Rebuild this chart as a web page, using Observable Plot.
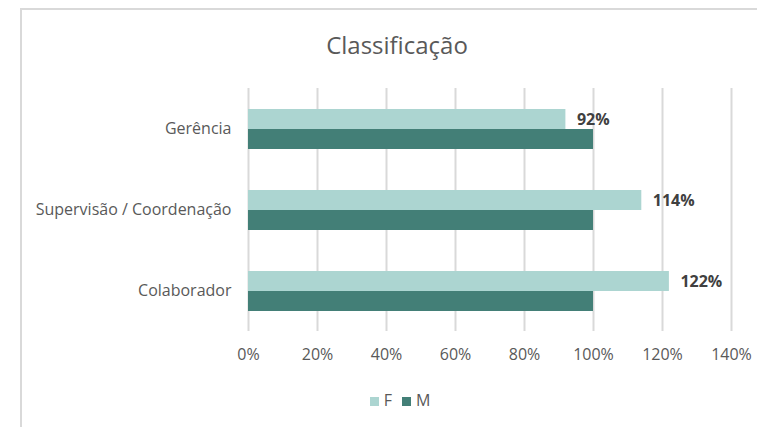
<!DOCTYPE html>
<html>
<head>
<meta charset="utf-8">
<script src="https://cdn.jsdelivr.net/npm/d3@7"></script>
<script src="https://cdn.jsdelivr.net/npm/@observablehq/plot@0.6"></script>
<style>
  html, body { margin: 0; padding: 0; background: #fff; }
  #wrap { position: relative; width: 757px; height: 427px; overflow: hidden; background: #fff; font-family: "Open Sans", sans-serif; }
  #frame { position: absolute; left: 20px; top: 8px; width: 800px; height: 500px; border-left: 2px solid #d9d9d9; border-top: 2px solid #d9d9d9; }
  #title { position: absolute; left: 0; top: 30px; width: 794px; text-align: center; font-size: 24px; color: #595959; line-height: 30px; }
  #chart { position: absolute; left: 0; top: 80px; }
  #legend { position: absolute; left: 0; top: 390px; width: 800px; text-align: center; font-size: 16px; color: #595959; line-height: 20px; }
  .sw { display: inline-block; width: 9px; height: 9px; margin-right: 5px; vertical-align: 0px; }
  .item { display: inline-block; margin: 0 5px; }
</style>
</head>
<body>
<div id="wrap">
  <div id="frame"></div>
  <div id="title">Classificação</div>
  <div id="chart"></div>
  <div id="legend"></div>
</div>
<script>
const categories = ["Gerência", "Supervisão / Coordenação", "Colaborador"];
const series = ["F", "M"];
const valuesF = [0.92, 1.14, 1.22];
const valuesM = [1.00, 1.00, 1.00];
const colors = ["#acd5d1", "#437f77"];
const xTicks = [0, 0.2, 0.4, 0.6, 0.8, 1.0, 1.2, 1.4];

const data = categories.flatMap((c, i) => [
  {cat: c, s: "F", v: valuesF[i]},
  {cat: c, s: "M", v: valuesM[i]}
]);
const pct = d3.format(".0%");

const chart = Plot.plot({
  width: 757,
  height: 288,
  marginLeft: 248,
  marginRight: 26,
  marginTop: 7,
  marginBottom: 36,
  style: {fontFamily: "'Open Sans', sans-serif", fontSize: "16px", color: "#595959", background: "transparent"},
  x: {domain: [0, 1.4], ticks: xTicks, tickFormat: pct, tickSize: 0, tickPadding: 17, label: null},
  fy: {domain: categories, padding: 0, label: null, axis: "left", tickSize: 0, tickPadding: 17},
  y: {domain: series, axis: null, paddingInner: 0, paddingOuter: 0.93},
  color: {domain: series, range: colors},
  marks: [
    Plot.ruleX(xTicks, {stroke: "#d9d9d9", strokeWidth: 2}),
    Plot.barX(data, {x: "v", y: "s", fy: "cat", fill: "s"}),
    Plot.text(data.filter(d => d.s === "F"), {
      x: "v", y: "s", fy: "cat", text: d => pct(d.v), dx: 11,
      textAnchor: "start", fontWeight: "bold", fill: "#404040", fontSize: 16
    })
  ]
});
document.getElementById("chart").appendChild(chart);

const legend = document.getElementById("legend");
series.forEach((s, i) => {
  const item = document.createElement("span");
  item.className = "item";
  item.innerHTML = `<span class="sw" style="background:${colors[i]}"></span>${s}`;
  legend.appendChild(item);
});
</script>
</body>
</html>
